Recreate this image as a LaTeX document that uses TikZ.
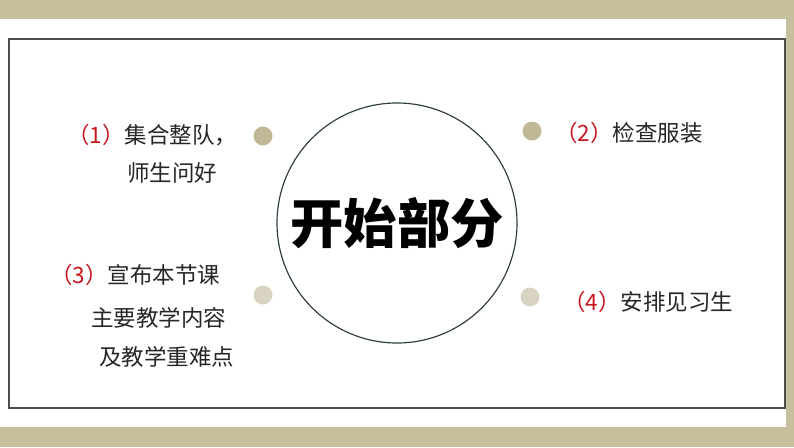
\documentclass[tikz,border=0pt]{standalone}
\usepackage{fontspec}
\newfontfamily\cjk{Noto Sans CJK SC}
\definecolor{band}{HTML}{C6BE9C}
\definecolor{dotdark}{HTML}{C0B796}
\definecolor{dotlight}{HTML}{D9D4C1}
\definecolor{framegray}{HTML}{4D4D4D}
\definecolor{ring}{HTML}{2E3E38}
\definecolor{numred}{HTML}{C8161D}
\begin{document}
\begin{tikzpicture}
        [x=0.03cm, y=-0.03cm,
        dot/.style = {circle, inner sep=0pt,
                    minimum size = 0.57cm},
        item/.style = {anchor=west, inner sep=0pt, text=black!85,
                    font=\cjk\fontsize{19.2}{22}\selectfont}]
        \useasboundingbox (0,0) rectangle (794,447);
        % Franjas
        \fill[band] (0,0) rectangle (794,19);
        \fill[band] (0,427) rectangle (794,447);
        \fill[band] (786,0) rectangle (794,447);
        % Marco
        \draw[framegray, line width=1.7pt] (9,39) rectangle (785,408);
        % Circulo central
        \node[circle, draw=ring, line width=1pt, inner sep=0pt,
              minimum size=7.2cm, font=\cjk\bfseries\fontsize{45.5}{50}\selectfont]
              (title) at (397,223) {开始部分};
        % Puntos
        \node[dot, fill=dotdark] (d1) at (263,136) {};
        \node[dot, fill=dotdark] (d2) at (532,131) {};
        \node[dot, fill=dotlight] (d3) at (263,295) {};
        \node[dot, fill=dotlight] (d4) at (530,297) {};
        % Textos
        \node[item] (t1a) at (67,135) {\textcolor{numred}{（1）}集合整队，};
        \node[item] (t1b) at (127,173) {师生问好};
        \node[item] (t2) at (555,133) {\textcolor{numred}{（2）}检查服装};
        \node[item] (t3a) at (50,275) {\textcolor{numred}{（3）}宣布本节课};
        \node[item] (t3b) at (91,318) {主要教学内容};
        \node[item] (t3c) at (99,357) {及教学重难点};
        \node[item] (t4) at (563,302) {\textcolor{numred}{（4）}安排见习生};
\end{tikzpicture}
\end{document}
